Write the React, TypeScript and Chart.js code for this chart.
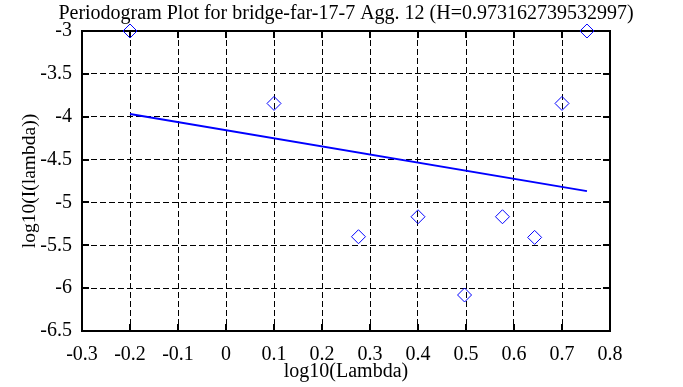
import React, { useEffect, useRef } from "react";
import { Chart, registerables } from "chart.js";

Chart.register(...registerables);

const titleText = "Periodogram Plot for bridge-far-17-7 Agg. 12 (H=0.973162739532997)";
const xAxisTitle = "log10(Lambda)";
const yAxisTitle = "log10(I(lambda))";

const pointX = [-0.2, 0.1, 0.276, 0.4, 0.497, 0.576, 0.643, 0.7, 0.752];
const pointY = [-3.0, -3.845, -5.4, -5.167, -6.08, -5.167, -5.408, -3.845, -3.0];

const fitX = [-0.2, 0.752];
const fitY = [-3.968, -4.868];

const xTicks = [-0.3, -0.2, -0.1, 0, 0.1, 0.2, 0.3, 0.4, 0.5, 0.6, 0.7, 0.8];
const yTicks = [-6.5, -6, -5.5, -5, -4.5, -4, -3.5, -3];

const FONT = "'Liberation Serif', 'Times New Roman', serif";

const fmt = (v: number) => String(Math.round(v * 10) / 10);

const framePlugin = {
  id: "frame",
  beforeDatasetsDraw(chart: any) {
    const { ctx, chartArea, scales } = chart;
    const { left, right, top, bottom } = chartArea;
    ctx.save();
    ctx.strokeStyle = "#000";
    ctx.lineWidth = 2;
    ctx.strokeRect(left, top, right - left, bottom - top);
    const tl = 7;
    ctx.beginPath();
    xTicks.forEach((v) => {
      const px = Math.round(scales.x.getPixelForValue(v));
      ctx.moveTo(px, bottom);
      ctx.lineTo(px, bottom - tl);
      ctx.moveTo(px, top);
      ctx.lineTo(px, top + tl);
    });
    yTicks.forEach((v) => {
      const py = Math.round(scales.y.getPixelForValue(v));
      ctx.moveTo(left, py);
      ctx.lineTo(left + tl, py);
      ctx.moveTo(right, py);
      ctx.lineTo(right - tl, py);
    });
    ctx.stroke();
    ctx.restore();
  },
};

export default function App() {
  const ref = useRef<HTMLCanvasElement | null>(null);
  useEffect(() => {
    if (!ref.current) return;
    const chart = new Chart(ref.current, {
      type: "scatter",
      data: {
        datasets: [
          {
            type: "line",
            label: "fit",
            data: fitX.map((x, i) => ({ x, y: fitY[i] })),
            borderColor: "#0000ff",
            borderWidth: 2,
            pointRadius: 0,
            fill: false,
          } as any,
          {
            label: "points",
            data: pointX.map((x, i) => ({ x, y: pointY[i] })),
            pointStyle: "rectRot",
            pointRadius: 7,
            pointBorderWidth: 1,
            borderColor: "#0000ff",
            backgroundColor: "rgba(0,0,0,0)",
            showLine: false,
            clip: false,
          } as any,
        ],
      },
      options: {
        animation: false,
        responsive: false,
        maintainAspectRatio: false,
        layout: { padding: { left: 9, right: 0, top: 0, bottom: 0 } },
        plugins: {
          legend: { display: false },
          tooltip: { enabled: false },
          title: {
            display: true,
            text: titleText,
            color: "#000",
            font: { family: FONT, size: 20, weight: "normal", lineHeight: 1.2 },
            padding: { top: 2, bottom: 5 },
          },
        },
        scales: {
          x: {
            type: "linear",
            min: -0.3,
            max: 0.8,
            afterBuildTicks: (s: any) => {
              s.ticks = xTicks.map((v) => ({ value: v }));
            },
            afterFit: (s: any) => {
              s.height = 56;
            },
            ticks: {
              color: "#000",
              font: { family: FONT, size: 20 },
              padding: 12,
              maxRotation: 0,
              callback: (v: any) => fmt(Number(v)),
            },
            grid: {
              color: "#000",
              lineWidth: 1,
              drawTicks: false,
            },
            border: { display: false, dash: [6, 3] } as any,
            title: {
              display: true,
              text: xAxisTitle,
              color: "#000",
              font: { family: FONT, size: 20 },
              padding: { top: 0, bottom: 3 },
            },
          },
          y: {
            type: "linear",
            min: -6.5,
            max: -3,
            afterBuildTicks: (s: any) => {
              s.ticks = yTicks.map((v) => ({ value: v }));
            },
            afterFit: (s: any) => {
              s.width = 73;
            },
            ticks: {
              color: "#000",
              font: { family: FONT, size: 20 },
              padding: 10,
              callback: (v: any) => fmt(Number(v)),
            },
            grid: {
              color: "#000",
              lineWidth: 1,
              drawTicks: false,
            },
            border: { display: false, dash: [6, 3] } as any,
            title: {
              display: true,
              text: yAxisTitle,
              color: "#000",
              font: { family: FONT, size: 19.5 },
              padding: { top: 9.3, bottom: 0 },
            },
          },
          yRightSpace: {
            type: "linear",
            position: "right",
            display: true,
            min: 0,
            max: 1,
            afterFit: (s: any) => {
              s.width = 73;
            },
            ticks: { display: false },
            grid: { display: false, drawTicks: false },
            border: { display: false },
          } as any,
        },
      },
      plugins: [framePlugin],
    });
    return () => chart.destroy();
  }, []);
  return (
    <div style={{ position: "fixed", left: 0, top: 0, width: 683, height: 387, background: "#fff" }}>
      <canvas ref={ref} width={683} height={387} style={{ width: 683, height: 387, display: "block" }} />
    </div>
  );
}
